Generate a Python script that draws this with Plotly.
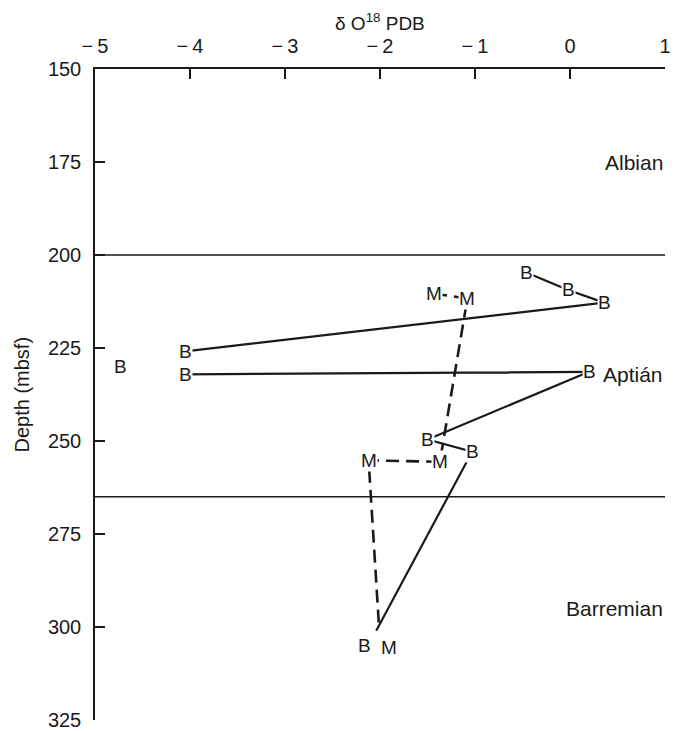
import plotly.graph_objects as go

# ---- data ----
x_tick_vals = [-5, -4, -3, -2, -1, 0, 1]
x_tick_text = ["\u2212\u20095", "\u2212\u20094", "\u2212\u20093", "\u2212\u20092", "\u2212\u20091", "0", "1"]
y_tick_vals = [150, 175, 200, 225, 250, 275, 300, 325]

stage_boundaries = [200, 265]
stage_names = ["Albian", "Aptián", "Barremian"]
stage_label_depths = [175, 232, 295]

# bulk-rock (B) samples: upper connected run, lower connected run, isolated point
b_upper_d18o = [-0.46, -0.02, 0.36, -4.05]
b_upper_depth = [204.7, 209.4, 212.8, 225.9]
b_lower_d18o = [-4.05, 0.2, -1.5, -1.03, -2.04]
b_lower_depth = [232.1, 231.4, 249.6, 252.9, 301.0]
b_lone_d18o = [-4.73]
b_lone_depth = [229.9]

# M samples, dashed line
m_d18o = [-1.43, -1.08, -1.37, -2.12, -2.01]
m_depth = [210.4, 211.7, 255.6, 255.2, 300.0]

INK = "#1a1a1a"
FONT = "Liberation Sans, Arial, Helvetica, sans-serif"

# letter label offsets in pixels (styling only), keyed by point index
b_lower_label_shift = {4: (-12, -15)}
m_label_shift = {4: (10, -20)}

fig = go.Figure()

# stage boundaries
for d in stage_boundaries:
    fig.add_trace(go.Scatter(x=[x_tick_vals[0], x_tick_vals[-1]], y=[d, d], mode="lines",
                             line=dict(color=INK, width=1.5), showlegend=False, hoverinfo="skip"))

# B solid lines
for xs, ys in [(b_upper_d18o, b_upper_depth), (b_lower_d18o, b_lower_depth)]:
    fig.add_trace(go.Scatter(x=xs, y=ys, mode="lines", line=dict(color=INK, width=2.2),
                             showlegend=False, hoverinfo="skip"))

# M dashed line
fig.add_trace(go.Scatter(x=m_d18o, y=m_depth, mode="lines",
                         line=dict(color=INK, width=2.6, dash="13px,7px"),
                         showlegend=False, hoverinfo="skip"))

# letter symbols with white background (gap around lines)
annotations = []
def letter(x, y, t, shift=(0, 0)):
    annotations.append(dict(x=x, y=y, xref="x", yref="y", text=t, showarrow=False,
                            font=dict(family=FONT, size=19, color=INK),
                            bgcolor="white", borderpad=0,
                            xshift=shift[0], yshift=shift[1],
                            xanchor="center", yanchor="middle"))

for x, y in zip(b_upper_d18o, b_upper_depth):
    letter(x, y, "B")
for i, (x, y) in enumerate(zip(b_lower_d18o, b_lower_depth)):
    letter(x, y, "B", b_lower_label_shift.get(i, (0, 0)))
for x, y in zip(b_lone_d18o, b_lone_depth):
    letter(x, y, "B")
for i, (x, y) in enumerate(zip(m_d18o, m_depth)):
    letter(x, y, "M", m_label_shift.get(i, (0, 0)))

# stage names, right-aligned at right edge
for name, d in zip(stage_names, stage_label_depths):
    annotations.append(dict(x=x_tick_vals[-1], y=d, xref="x", yref="y", text=name, showarrow=False,
                            font=dict(family=FONT, size=21, color=INK),
                            xanchor="right", yanchor="middle"))

# axis titles
annotations.append(dict(x=0.5, y=1.0, xref="paper", yref="paper", yshift=47,
                        text="\u03b4 O<sup>18</sup> PDB", showarrow=False,
                        font=dict(family=FONT, size=19, color=INK),
                        xanchor="center", yanchor="middle"))
annotations.append(dict(x=0, y=0.5, xref="paper", yref="paper", xshift=-74,
                        text="Depth (mbsf)", showarrow=False, textangle=-90,
                        font=dict(family=FONT, size=20, color=INK),
                        xanchor="center", yanchor="middle"))

# page body has an 8px margin: figure sized/offset so the plot lands where the reference has it
fig.update_layout(
    width=671, height=723,
    margin=dict(l=87, r=14, t=61, b=11, autoexpand=False),
    paper_bgcolor="white", plot_bgcolor="white",
    font=dict(family=FONT, color=INK),
    annotations=annotations,
    showlegend=False,
    xaxis=dict(side="top", range=[x_tick_vals[0], x_tick_vals[-1]], tickmode="array",
               tickvals=x_tick_vals, ticktext=x_tick_text, ticks="inside", ticklen=10,
               tickwidth=1.5, tickcolor=INK, showline=True, linecolor=INK, linewidth=1.5,
               showgrid=False, zeroline=False, tickfont=dict(size=20, color=INK),
               ticklabelstandoff=6),
    yaxis=dict(range=[y_tick_vals[-1], y_tick_vals[0]], tickmode="array",
               tickvals=y_tick_vals, ticks="inside", ticklen=10,
               tickwidth=1.5, tickcolor=INK, showline=True, linecolor=INK, linewidth=1.5,
               showgrid=False, zeroline=False, tickfont=dict(size=20, color=INK),
               ticklabelstandoff=8),
)

fig.write_html("out.html")
